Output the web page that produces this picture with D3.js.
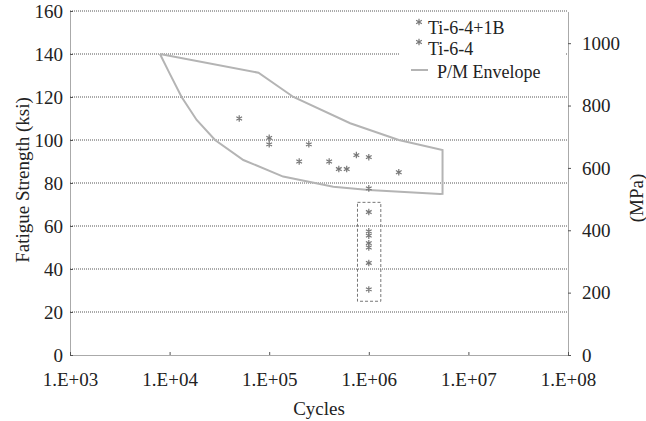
<!DOCTYPE html>
<html>
<head>
<meta charset="utf-8">
<script src="https://cdn.jsdelivr.net/npm/d3@7"></script>
<style>
  body { margin: 0; background: #fff; }
  svg text { font-family: "Liberation Serif", "DejaVu Serif", serif !important; fill: #222; }
</style>
</head>
<body>
<svg id="chart"></svg>
<script>
// tick values
const xTicks = [1e3, 1e4, 1e5, 1e6, 1e7, 1e8];
const xTickLabels = ["1.E+03", "1.E+04", "1.E+05", "1.E+06", "1.E+07", "1.E+08"];
const ksiTicks = [0, 20, 40, 60, 80, 100, 120, 140, 160];
const mpaTicks = [0, 200, 400, 600, 800, 1000];

// Ti-6-4+1B points
const tibCycles = [5e4, 1e5, 1e5, 2e5, 2.5e5, 4e5, 5e5, 6e5, 7.5e5, 1e6, 1e6, 2e6];
const tibKsi    = [110, 101, 98, 90, 98, 90, 86.5, 86.5, 93, 92, 77.5, 85];

// Ti-6-4 points (in dashed box)
const tiCycles = [1e6, 1e6, 1e6, 1e6, 1e6, 1e6, 1e6];
const tiKsi    = [66.5, 57.5, 55.5, 52, 50, 42.8, 30.5];

// P/M envelope outline
const envCycles = [8e3, 7.8e4, 1.75e5, 6.5e5, 2e6, 5.5e6, 5.5e6, 5.2e6, 1e6, 4.4e5, 1.38e5, 5.5e4, 2.86e4, 1.87e4, 1.32e4, 1e4, 8e3];
const envKsi    = [140, 131.3, 120, 107.8, 100, 95.3, 75, 74.9, 76.7, 78.3, 83, 90.7, 100, 109.3, 120, 131, 140];

// dashed box round the Ti-6-4 group
const boxCycles = [7.7e5, 1.32e6];
const boxKsi = [25, 71];

const W = 646, H = 421;
const margin = { top: 11, right: 78, bottom: 66, left: 70 };
const FONT = "'Liberation Serif', 'DejaVu Serif', serif";

const svg = d3.select("#chart").attr("width", W).attr("height", H)
  .attr("font-family", FONT);

const x = d3.scaleLog().domain([1e3, 1e8]).range([margin.left, W - margin.right]);
const y = d3.scaleLinear().domain([0, 160]).range([H - margin.bottom, margin.top]);
const yR = d3.scaleLinear().domain([0, 160 * 6.895]).range([H - margin.bottom, margin.top]);

const gridColor = "#555";

// gridlines
svg.append("g").selectAll("line")
  .data(ksiTicks.filter(d => d > 0))
  .join("line")
  .attr("x1", x.range()[0]).attr("x2", x.range()[1])
  .attr("y1", d => y(d)).attr("y2", d => y(d))
  .attr("stroke", gridColor).attr("stroke-width", 1)
  .attr("stroke-dasharray", "1,1");

// axes
const xAxis = d3.axisBottom(x).tickValues(xTicks)
  .tickFormat((d, i) => xTickLabels[i]).tickSize(-3).tickSizeOuter(0).tickPadding(18);
const yAxis = d3.axisLeft(y).tickValues(ksiTicks).tickSize(-3).tickSizeOuter(0).tickPadding(7);
const yAxisR = d3.axisRight(yR).tickValues(mpaTicks).tickFormat(d3.format("d"))
  .tickSize(3).tickSizeOuter(0).tickPadding(11);

function styleAxis(g) {
  g.attr("font-family", FONT);
  g.select(".domain").attr("stroke", gridColor).attr("stroke-dasharray", "1,1");
  g.selectAll(".tick line").attr("stroke", gridColor);
  g.selectAll(".tick text").style("font-size", "19px").attr("fill", "#222");
}

svg.append("g").attr("transform", `translate(0,${y(0)})`).call(xAxis).call(styleAxis);
svg.append("g").attr("transform", `translate(${x.range()[0]},0)`).call(yAxis).call(styleAxis);
svg.append("g").attr("transform", `translate(${x.range()[1]},0)`).call(yAxisR).call(styleAxis);

// legend background hides part of the 140 gridline
svg.append("rect")
  .attr("x", 400).attr("y", 13).attr("width", 166).attr("height", 78)
  .attr("fill", "#fff");

// envelope
const envLine = d3.line().x(d => x(d[0])).y(d => y(d[1]));
svg.append("path")
  .datum(envCycles.map((c, i) => [c, envKsi[i]]))
  .attr("d", envLine)
  .attr("fill", "none")
  .attr("stroke", "#b4b4b4")
  .attr("stroke-width", 2);

// dashed box
svg.append("rect")
  .attr("x", x(boxCycles[0])).attr("y", y(boxKsi[1]))
  .attr("width", x(boxCycles[1]) - x(boxCycles[0]))
  .attr("height", y(boxKsi[0]) - y(boxKsi[1]))
  .attr("fill", "none").attr("stroke", "#777")
  .attr("stroke-dasharray", "3,2");

// points
const star = d3.symbol().type(d3.symbolAsterisk).size(30);
function drawPoints(cs, ks) {
  svg.append("g").selectAll("path")
    .data(cs.map((c, i) => [c, ks[i]]))
    .join("path")
    .attr("d", star)
    .attr("transform", d => `translate(${x(d[0])},${y(d[1])})`)
    .attr("fill", "none").attr("stroke", "#777").attr("stroke-width", 1.2);
}
drawPoints(tibCycles, tibKsi);
drawPoints(tiCycles, tiKsi);

// legend
const leg = svg.append("g").style("font-size", "18px");
leg.append("path").attr("d", star).attr("transform", "translate(419,22)")
  .attr("fill", "none").attr("stroke", "#777").attr("stroke-width", 1.2);
leg.append("text").attr("x", 428).attr("y", 34).text("Ti-6-4+1B");
leg.append("path").attr("d", star).attr("transform", "translate(419,42)")
  .attr("fill", "none").attr("stroke", "#777").attr("stroke-width", 1.2);
leg.append("text").attr("x", 428).attr("y", 55).text("Ti-6-4");
leg.append("line").attr("x1", 411).attr("x2", 428).attr("y1", 70).attr("y2", 70)
  .attr("stroke", "#b4b4b4").attr("stroke-width", 2);
leg.append("text").attr("x", 437).attr("y", 78).text("P/M Envelope");

// axis titles
svg.append("text")
  .attr("x", (x.range()[0] + x.range()[1]) / 2).attr("y", 415)
  .attr("text-anchor", "middle").style("font-size", "19px").text("Cycles");
svg.append("text")
  .attr("transform", "translate(29,180) rotate(-90)")
  .attr("text-anchor", "middle").style("font-size", "19px").text("Fatigue Strength (ksi)");
svg.append("text")
  .attr("transform", "translate(643,198) rotate(-90)")
  .attr("text-anchor", "middle").style("font-size", "19px").text("(MPa)");
</script>
</body>
</html>
